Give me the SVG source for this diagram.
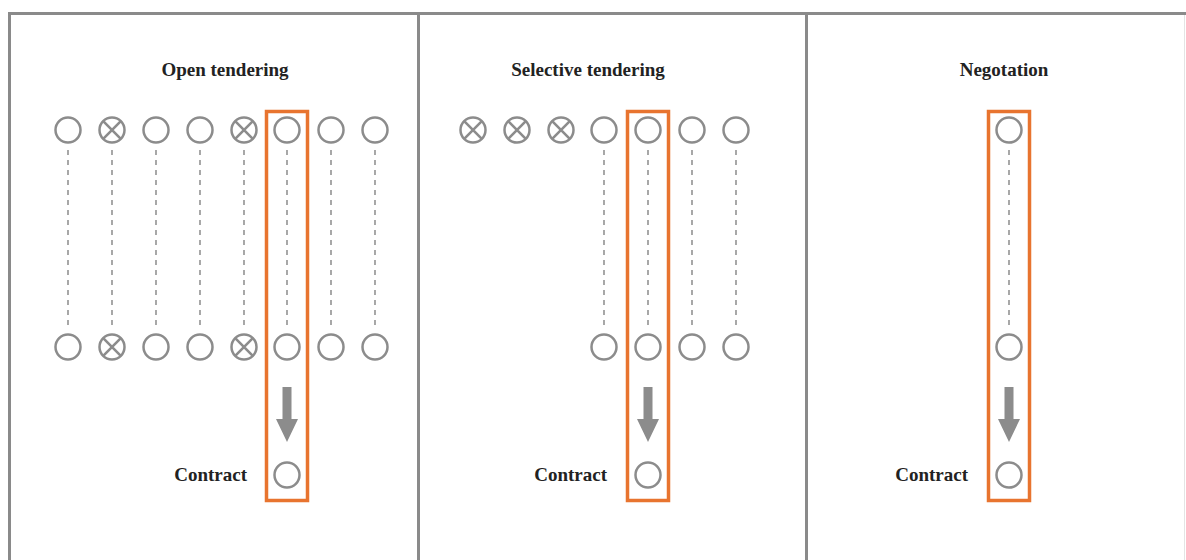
<svg xmlns="http://www.w3.org/2000/svg" width="1186" height="560" viewBox="0 0 1186 560">
<style>
.frame{stroke:#8a8a8a;stroke-width:3;fill:none}
.c{fill:#fff;stroke:#8c8c8c;stroke-width:2.5}
.x{stroke:#8c8c8c;stroke-width:2.6}
.d{stroke:#999;stroke-width:1.7;stroke-dasharray:5 5}
.sel{fill:none;stroke:#e8742f;stroke-width:3.5}
.arr{fill:#8c8c8c}
.t{font-family:"Liberation Serif","Times New Roman",serif;font-weight:bold;fill:#222}
.title{font-size:19px;text-anchor:middle}
.lab{font-size:19px;text-anchor:end}
</style>
<defs>
<g id="ok"><circle class="c" r="12.5"/></g>
<g id="no"><circle class="c" r="12.5"/><path class="x" d="M-8.8,-8.8L8.8,8.8M8.8,-8.8L-8.8,8.8"/></g>
<path id="arrow" d="M-4.5,0H4.5V32H11L0,55L-11,32H-4.5Z"/>
</defs>
<rect width="1186" height="560" fill="#fff"/>
<g id="frame">
<path class="frame" d="M9.5,560V13.5H1186"/>
<line class="frame" x1="418.5" y1="13.5" x2="418.5" y2="560"/>
<line class="frame" x1="806.5" y1="13.5" x2="806.5" y2="560"/>
<line x1="1184.5" y1="15" x2="1184.5" y2="560" stroke="#e4e4e4" stroke-width="1"/>
</g>
<g id="connectors">
<g class="d">
<line x1="68" y1="150" x2="68" y2="330"/>
<line x1="112" y1="150" x2="112" y2="330"/>
<line x1="156" y1="150" x2="156" y2="330"/>
<line x1="200" y1="150" x2="200" y2="330"/>
<line x1="244" y1="150" x2="244" y2="330"/>
<line x1="287" y1="150" x2="287" y2="330"/>
<line x1="331" y1="150" x2="331" y2="330"/>
<line x1="375" y1="150" x2="375" y2="330"/>
<line x1="604" y1="150" x2="604" y2="330"/>
<line x1="648" y1="150" x2="648" y2="330"/>
<line x1="692" y1="150" x2="692" y2="330"/>
<line x1="736" y1="150" x2="736" y2="330"/>
<line x1="1009" y1="150" x2="1009" y2="330"/>
</g>
<use href="#arrow" class="arr" x="287" y="387"/>
<use href="#arrow" class="arr" x="648" y="387"/>
<use href="#arrow" class="arr" x="1009" y="387"/>
</g>
<g id="open-tendering">
<text class="t title" x="225" y="76">Open tendering</text>
<use href="#ok" x="68" y="130"/><use href="#no" x="112" y="130"/><use href="#ok" x="156" y="130"/><use href="#ok" x="200" y="130"/><use href="#no" x="244" y="130"/><use href="#ok" x="287" y="130"/><use href="#ok" x="331" y="130"/><use href="#ok" x="375" y="130"/>
<use href="#ok" x="68" y="347"/><use href="#no" x="112" y="347"/><use href="#ok" x="156" y="347"/><use href="#ok" x="200" y="347"/><use href="#no" x="244" y="347"/><use href="#ok" x="287" y="347"/><use href="#ok" x="331" y="347"/><use href="#ok" x="375" y="347"/>
<use href="#ok" x="287" y="475"/>
<text class="t lab" x="247" y="481">Contract</text>
<rect class="sel" x="266.5" y="111.5" width="41" height="389"/>
</g>
<g id="selective-tendering">
<text class="t title" x="588" y="76">Selective tendering</text>
<use href="#no" x="473" y="130"/><use href="#no" x="517" y="130"/><use href="#no" x="561" y="130"/><use href="#ok" x="604" y="130"/><use href="#ok" x="648" y="130"/><use href="#ok" x="692" y="130"/><use href="#ok" x="736" y="130"/>
<use href="#ok" x="604" y="347"/><use href="#ok" x="648" y="347"/><use href="#ok" x="692" y="347"/><use href="#ok" x="736" y="347"/>
<use href="#ok" x="648" y="475"/>
<text class="t lab" x="607" y="481">Contract</text>
<rect class="sel" x="627.5" y="111.5" width="41" height="389"/>
</g>
<g id="negotiation">
<text class="t title" x="1004" y="76">Negotation</text>
<use href="#ok" x="1009" y="130"/>
<use href="#ok" x="1009" y="347"/>
<use href="#ok" x="1009" y="475"/>
<text class="t lab" x="968" y="481">Contract</text>
<rect class="sel" x="988.5" y="111.5" width="41" height="389"/>
</g>
</svg>
